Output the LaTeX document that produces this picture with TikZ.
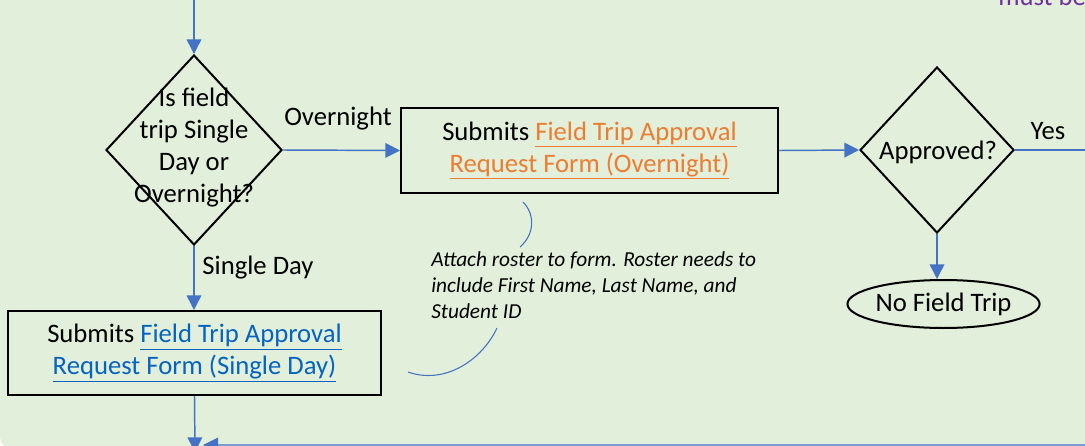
\documentclass[tikz,border=0pt]{standalone}
\usepackage{fontspec}
\setmainfont{Carlito}
\usetikzlibrary{shapes.geometric,arrows.meta}
\definecolor{bggreen}{RGB}{226,239,218}
\definecolor{flowblue}{RGB}{68,114,196}
\definecolor{paleblue}{RGB}{122,156,212}
\definecolor{linkorange}{RGB}{237,125,49}
\definecolor{linkblue}{RGB}{5,99,193}
\definecolor{notepurple}{RGB}{112,48,160}
\tikzset{
  base text/.style={font=\fontsize{20}{24}\selectfont},
  decision/.style={draw=black, line width=1.5pt, diamond, inner sep=0pt},
  process/.style={draw=black, line width=1.5pt, rectangle, inner sep=0pt, base text, align=center},
  terminal/.style={draw=black, line width=1.5pt, ellipse, inner sep=0pt, base text},
  flow/.style={draw=flowblue, line width=1.1pt, -{Triangle[length=11pt,width=11pt]}},
  plainflow/.style={draw=flowblue, line width=1.1pt},
  edgelabel/.style={base text, inner sep=0pt},
  callout/.style={draw=flowblue, line width=0.8pt},
}
\begin{document}
\begin{tikzpicture}[x=0.75pt, y=-0.75pt]
\useasboundingbox (0,0) rectangle (1085,446);
% swimlane background
\fill[bggreen, rounded corners=9pt] (0,-20) rectangle (1110,449);

% note text running off the top right of the lane
\node[base text, text=notepurple, anchor=base west, inner sep=0pt] (topnote) at (998,6) {must be};

% decisions
\node[decision, minimum width=176*0.75pt, minimum height=190*0.75pt] (d1) at (194,150) {};
\node[base text, align=center, inner sep=0pt] (d1text) at (194,148) {Is field\\trip Single\\Day or\\Overnight?};
\node[decision, minimum width=154*0.75pt, minimum height=166*0.75pt] (d2) at (937,150) {};
\node[base text, inner sep=0pt] (d2text) at (938,152) {Approved?};

% processes
\node[process, minimum width=377*0.75pt, minimum height=85*0.75pt] (overnight) at (589.5,150.5)
  {Submits \textcolor{linkorange}{\underline{Field Trip Approval}}\\\textcolor{linkorange}{\underline{Request Form (Overnight)}}};
\node[process, minimum width=373*0.75pt, minimum height=84*0.75pt] (single) at (194.5,353)
  {Submits \textcolor{linkblue}{\underline{Field Trip Approval}}\\\textcolor{linkblue}{\underline{Request Form (Single Day)}}};

% terminal
\node[terminal, minimum width=172*0.75pt, minimum height=48*0.75pt] (nofield) at (943.5,304) {No Field Trip};

% annotation
\node[font=\fontsize{16}{19.5}\selectfont\itshape, align=left, anchor=north west, inner sep=0pt] (note) at (431,251)
  {Attach roster to form. Roster needs to\\include First Name, Last Name, and\\Student ID};

% free ends of connectors
\coordinate (topin) at (194,-10);
\coordinate (yesout) at (1100,150);
\coordinate (downout) at (195,452);
\coordinate (mergein) at (1100,445);
\coordinate (mergetip) at (203,445);

% connectors
\draw[flow] (topin) -- (d1.north);
\draw[flow] (d1.east) -- (overnight.west);
\draw[flow] (overnight.east) -- (d2.west);
\draw[plainflow] (d2.east) -- (yesout);
\draw[flow] (d2.south) -- (d2.south |- nofield.north);
\draw[flow] (d1.south) -- (d1.south |- single.north);
\draw[flow] (single.south) -- (downout);
\draw[draw=paleblue, line width=2.2pt] (mergein) -- ([xshift=10pt]mergetip);
\fill[flowblue] (mergetip) -- ++(15,-7.5) -- ++(0,15) -- cycle;

% edge labels
\node[edgelabel] (lblover) at (338,119) {Overnight};
\node[edgelabel] (lblsingle) at (258,268) {Single Day};
\node[edgelabel] (lblyes) at (1048,131) {Yes};

% callout brackets around the annotation
\draw[callout] (523,202) .. controls (535,214) and (535,234) .. (520,247);
\draw[callout] (497,328) .. controls (482,360) and (445,385) .. (408,372);
\end{tikzpicture}
\end{document}
